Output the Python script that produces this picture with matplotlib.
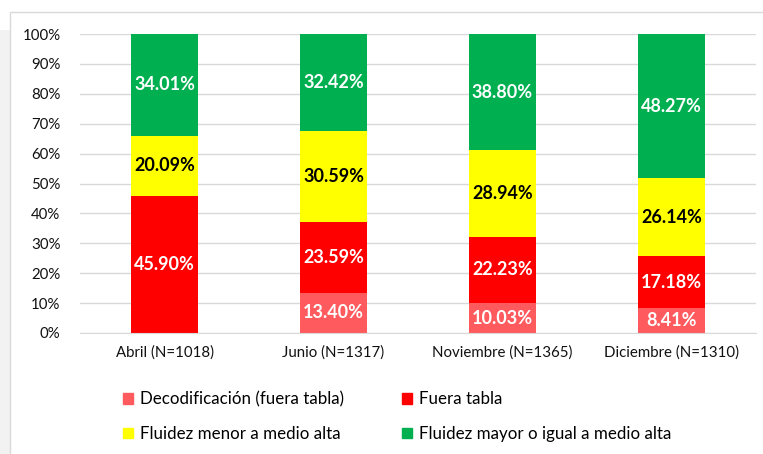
import numpy as np
import matplotlib.pyplot as plt
from matplotlib.patches import Patch, Rectangle

plt.rcParams['font.family'] = ['Lato', 'DejaVu Sans']

categories = ['Abril (N=1018)', 'Junio (N=1317)', 'Noviembre (N=1365)', 'Diciembre (N=1310)']
decodificacion = [0.0, 13.40, 10.03, 8.41]
fuera_tabla = [45.90, 23.59, 22.23, 17.18]
fluidez_menor = [20.09, 30.59, 28.94, 26.14]
fluidez_mayor = [34.01, 32.42, 38.80, 48.27]

series = [
    ('Decodificación (fuera tabla)', decodificacion, '#FF5B5E', 'white'),
    ('Fuera tabla', fuera_tabla, '#FF0000', 'white'),
    ('Fluidez menor a medio alta', fluidez_menor, '#FFFF00', 'black'),
    ('Fluidez mayor o igual a medio alta', fluidez_mayor, '#00B050', 'white'),
]

fig = plt.figure(figsize=(7.63, 4.54), dpi=100)

# light frame / background like the source screenshot
fig.patches.append(Rectangle((0, 0), 10 / 763, 1 - 30 / 454, transform=fig.transFigure,
                             fc='#F2F2F2', ec='none', zorder=-2))
fig.patches.append(Rectangle((10 / 763, -0.01), 1.0, 1 - 12 / 454 + 0.01,
                             transform=fig.transFigure, fc='white', ec='#D9D9D9',
                             lw=1.0, zorder=-1))

ax = fig.add_axes([80 / 763, 1 - 333 / 454, 676 / 763, 299 / 454])
ax.patch.set_alpha(0)

x = np.arange(len(categories))
bottom = np.zeros(len(categories))
handles = {}
for name, vals, color, tcolor in series:
    vals = np.array(vals)
    ax.bar(x, vals, width=0.4, bottom=bottom, color=color, zorder=2)
    handles[name] = Patch(color=color, label=name)
    for xi, b, v in zip(x, bottom, vals):
        if v > 0:
            ax.text(xi, b + v / 2, f'{v:.2f}%', ha='center', va='center',
                    color=tcolor, fontsize=13, fontweight='bold', zorder=3)
    bottom += vals

ax.set_xlim(-0.5, len(categories) - 0.5)
ax.set_ylim(0, 100)
ax.set_yticks(np.arange(0, 101, 10))
ax.set_yticklabels([f'{t}%' for t in range(0, 101, 10)])
ax.set_xticks(x)
ax.set_xticklabels(categories)
ax.tick_params(axis='both', length=0, labelsize=10.8, colors='#111111')
ax.tick_params(axis='x', pad=9)
ax.tick_params(axis='y', pad=14)
ax.yaxis.grid(True, color='#D9D9D9', lw=1.0, zorder=0)
ax.set_axisbelow(True)
for s in ['top', 'right', 'left']:
    ax.spines[s].set_visible(False)
ax.spines['bottom'].set_color('#D9D9D9')

order = ['Decodificación (fuera tabla)', 'Fluidez menor a medio alta',
         'Fuera tabla', 'Fluidez mayor o igual a medio alta']
fig.legend(handles=[handles[k] for k in order], ncol=2, frameon=False,
           loc='upper left', bbox_to_anchor=(108 / 763, 1 - 376 / 454),
           fontsize=12.2, handlelength=0.6, handleheight=0.6, handletextpad=0.4,
           labelspacing=1.1, columnspacing=3.4)

fig.savefig('out.png', dpi=100)
